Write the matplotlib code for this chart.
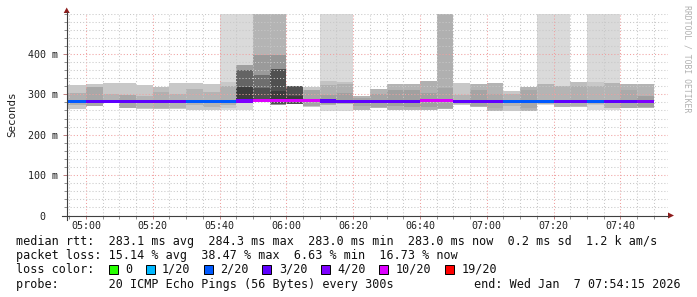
import numpy as np
import pandas as pd
import matplotlib
matplotlib.use("Agg")
import matplotlib.pyplot as plt
from matplotlib.ticker import MultipleLocator, FixedLocator
from matplotlib.patches import Rectangle, Polygon
from matplotlib.lines import Line2D

W, H = 697, 297
MONO = "DejaVu Sans Mono"

# --- data (ms), one entry per 5 min step, step end times 05:00 .. 07:50 ---
step_end = pd.date_range("2026-01-07 05:00", "2026-01-07 07:50", freq="5min")
graph_end = pd.Timestamp("2026-01-07 07:54:15")
graph_span_h = 3

median = [283.0, 283.1, 283.1, 283.0, 283.1, 283.0, 283.1, 283.0, 283.1, 283.0,
          283.6, 284.3, 284.1, 283.9, 283.8, 283.2, 283.1, 283.0, 283.1, 283.0,
          283.1, 284.0, 284.2, 283.1, 283.0, 283.1, 283.0, 283.0, 283.1, 283.0,
          283.1, 283.0, 283.0, 283.1, 283.0]
# lost pings out of 20
loss = [1.5, 2.6, 2.8, 2.5, 2.7, 2.9, 2.6, 1.8, 1.6, 1.9,
        3.6, 7.7, 7.0, 6.5, 5.8, 2.8, 2.9, 2.5, 2.6, 2.7,
        2.8, 5.5, 6.8, 2.6, 2.9, 2.5, 1.7, 1.9, 1.4, 2.6,
        2.8, 1.33, 2.7, 2.6, 3.4]

# smoke bands (outer -> inner), NaN = not there; gray = smoke density
b1_lo = [263, 271, 278, 267, 263, 263, 263, 261, 261, 261, 261, 281, 281, 275, 269, 259, 259, 261,
         265, 261, 261, 261, 263, 273, 269, 259, 259, 259, 273, 269, 268, 261, 261, 265, 265]
b1_hi = [322, 325, 328, 328, 322, 319, 328, 328, 325, 600, 600, 600, 600, 320, 319, 600, 600, 296,
         313, 325, 325, 334, 600, 327, 325, 327, 308, 317, 600, 600, 331, 600, 600, 325, 325]
g1 = [200, 200, 200, 200, 200, 190, 200, 200, 200, 218, 218, 180, 180, 80, 200, 218, 218, 180,
      180, 180, 180, 176, 176, 200, 180, 180, 200, 180, 218, 218, 190, 218, 218, 180, 180]

b2_lo = [273, 271, 280, 267, 266, 266, 266, 273, 268, 266, 278, 281, 273, 281, 272, 273, 275, 270,
         268, 270, 269, 269, 266, 275, 271, 266, 271, 266, 275, 269, 270, 273, 265, 267, 268]
b2_hi = [304, 318, 300, 298, 296, 306, 300, 312, 305, 331, 372, 397, 397, 296, 310, 334, 331, 292,
         300, 310, 310, 304, 315, 298, 310, 300, 300, 310, 325, 320, 320, 331, 327, 310, 296]
g2 = [176, 168, 180, 168, 180, 176, 180, 180, 180, 200, 160, 154, 150, 60, 165, 195, 195, 165,
      165, 160, 160, 160, 164, 180, 164, 170, 180, 168, 180, 180, 176, 200, 180, 170, 160]

nan = np.nan
b3_lo = [nan] * 9 + [273, 281, 281, 277, nan, nan, 273, 277] + [nan] * 14 + [275, nan, nan, nan]
b3_hi = [nan] * 9 + [320, 360, 348, 362, nan, nan, 323, 325] + [nan] * 14 + [320, nan, nan, nan]
g3 = [0] * 9 + [176, 100, 110, 80, 0, 0, 176, 176] + [0] * 14 + [180, 0, 0, 0]

b4_lo = [nan] * 10 + [282, 281, 280, nan, nan, 276, 278] + [nan] * 18
b4_hi = [nan] * 10 + [317, 315, 309, nan, nan, 298, 302] + [nan] * 18
g4 = [0] * 10 + [60, 80, 60, 0, 0, 160, 160] + [0] * 18

loss_keys = [0, 1, 2, 3, 4, 10, 19]
loss_labels = ["0", "1/20", "2/20", "3/20", "4/20", "10/20", "19/20"]
loss_colors = ["#26ff00", "#00b8ff", "#0059ff", "#5e00ff", "#7e00ff", "#dd00ff", "#ff0000"]

tick_labels = ["05:00", "05:20", "05:40", "06:00", "06:20", "06:40", "07:00", "07:20", "07:40"]
y_ticks = [0, 100, 200, 300, 400]
y_tick_labels = ["0  ", "100 m", "200 m", "300 m", "400 m"]


def px_x(x):
    return x / W


def px_y(y):
    return 1 - y / H


def minutes(t):
    return t.hour * 60 + t.minute + t.second / 60


ends = np.array([minutes(t) for t in step_end])
t1 = minutes(graph_end)
t0 = t1 - graph_span_h * 60
left = ends - 5
left[0] = max(left[0] - 5, t0)  # first step runs off the left edge
width = ends - left

fig = plt.figure(figsize=(W / 100, H / 100), dpi=100)
ax = fig.add_axes([px_x(66.7), px_y(215.5), (668 - 66.7) / W, (215.5 - 13.5) / H])
ax.set_xlim(t0, t1)
ax.set_ylim(0, 500)

# smoke
for lo, hi, g in [(b1_lo, b1_hi, g1), (b2_lo, b2_hi, g2), (b3_lo, b3_hi, g3), (b4_lo, b4_hi, g4)]:
    lo = np.array(lo, float)
    hi = np.array(hi, float)
    m = ~np.isnan(lo)
    cols = [str(v / 255) for v in np.array(g)[m]]
    ax.bar(left[m], hi[m] - lo[m], bottom=lo[m], width=width[m], align="edge",
           color=cols, linewidth=0, zorder=1)


# median line coloured by loss
def loss_color(l):
    prev = -1
    for k, c in zip(loss_keys, loss_colors):
        if prev < l <= k:
            return c
        prev = k
    return loss_colors[-1]


sw = 4.0
ax.bar(left, 2 * sw, bottom=np.array(median) - sw, width=width, align="edge",
       color=[loss_color(l) for l in loss], linewidth=0, zorder=3)

# grid
ax.xaxis.set_major_locator(FixedLocator([minutes(pd.Timestamp("2026-01-07 " + s)) for s in tick_labels]))
ax.xaxis.set_minor_locator(MultipleLocator(5))
ax.yaxis.set_major_locator(FixedLocator(y_ticks))
ax.yaxis.set_minor_locator(MultipleLocator(20))
ax.set_axisbelow(False)
ax.grid(which="minor", color="#c8c8c8", linestyle=(0, (1, 2)), linewidth=0.75, zorder=2)
ax.grid(which="major", color="#f0a0a0", linestyle=(0, (1, 2)), linewidth=0.75, zorder=2)
ax.set_xticklabels(tick_labels, fontfamily=MONO, fontsize=7.2, color="#202020")
ax.set_yticklabels(y_tick_labels, fontfamily=MONO, fontsize=7.2, color="#202020")
ax.tick_params(which="major", length=3, width=0.7, color="#c08080", pad=3)
ax.tick_params(which="minor", length=2, width=0.7, color="#909090")
ax.tick_params(axis="x", which="both", length=2, pad=2)
for s in ax.spines.values():
    s.set_visible(False)

# axes + arrows
ax_col = "#404040"
arrow_col = "#8e1c1c"
fig.add_artist(Line2D([px_x(66.7), px_x(66.7)], [px_y(220), px_y(12)], color=ax_col, lw=0.8))
fig.add_artist(Line2D([px_x(62), px_x(668)], [px_y(215.5), px_y(215.5)], color=ax_col, lw=0.8))
fig.add_artist(Polygon([(px_x(63.7), px_y(13)), (px_x(69.7), px_y(13)), (px_x(66.7), px_y(7.5))],
                       closed=True, color=arrow_col, lw=0))
fig.add_artist(Polygon([(px_x(668), px_y(212.5)), (px_x(668), px_y(218.5)), (px_x(674), px_y(215.5))],
                       closed=True, color=arrow_col, lw=0))

fig.text(px_x(12), px_y(114), "Seconds", rotation=90, ha="center", va="center",
         fontfamily=MONO, fontsize=7.8, color="#202020")
fig.text(px_x(687), px_y(5), "RRDTOOL / TOBI OETIKER", rotation=-90, ha="center", va="top",
         fontfamily=MONO, fontsize=5.9, color="#b0b0b0")

# legend / comments
fs = 8.5
cw = 7.13
fig.text(px_x(16), px_y(241), "median rtt:  283.1 ms avg  284.3 ms max  283.0 ms min  283.0 ms now"
         "  0.2 ms sd  1.2 k am/s", fontfamily=MONO, fontsize=fs, va="center", color="#101010")
fig.text(px_x(16), px_y(255.7), "packet loss: 15.14 % avg  38.47 % max  6.63 % min  16.73 % now",
         fontfamily=MONO, fontsize=fs, va="center", color="#101010")
fig.text(px_x(16), px_y(269.5), "loss color:", fontfamily=MONO, fontsize=fs, va="center", color="#101010")
x = 108.5
for lab, c in zip(loss_labels, loss_colors):
    fig.add_artist(Rectangle((px_x(x), px_y(274)), 9 / W, 9 / H, facecolor=c,
                             edgecolor="#000000", lw=0.7))
    fig.text(px_x(x + 16.5), px_y(269.5), lab, fontfamily=MONO, fontsize=fs, va="center", color="#101010")
    x += 29.9 + len(lab) * cw
fig.text(px_x(16), px_y(284.5), "probe:       20 ICMP Echo Pings (56 Bytes) every 300s",
         fontfamily=MONO, fontsize=fs, va="center", color="#101010")
fig.text(px_x(681), px_y(284.5), "end: Wed Jan  7 07:54:15 2026",
         fontfamily=MONO, fontsize=fs, va="center", ha="right", color="#101010")

fig.savefig("out.png", dpi=100)
